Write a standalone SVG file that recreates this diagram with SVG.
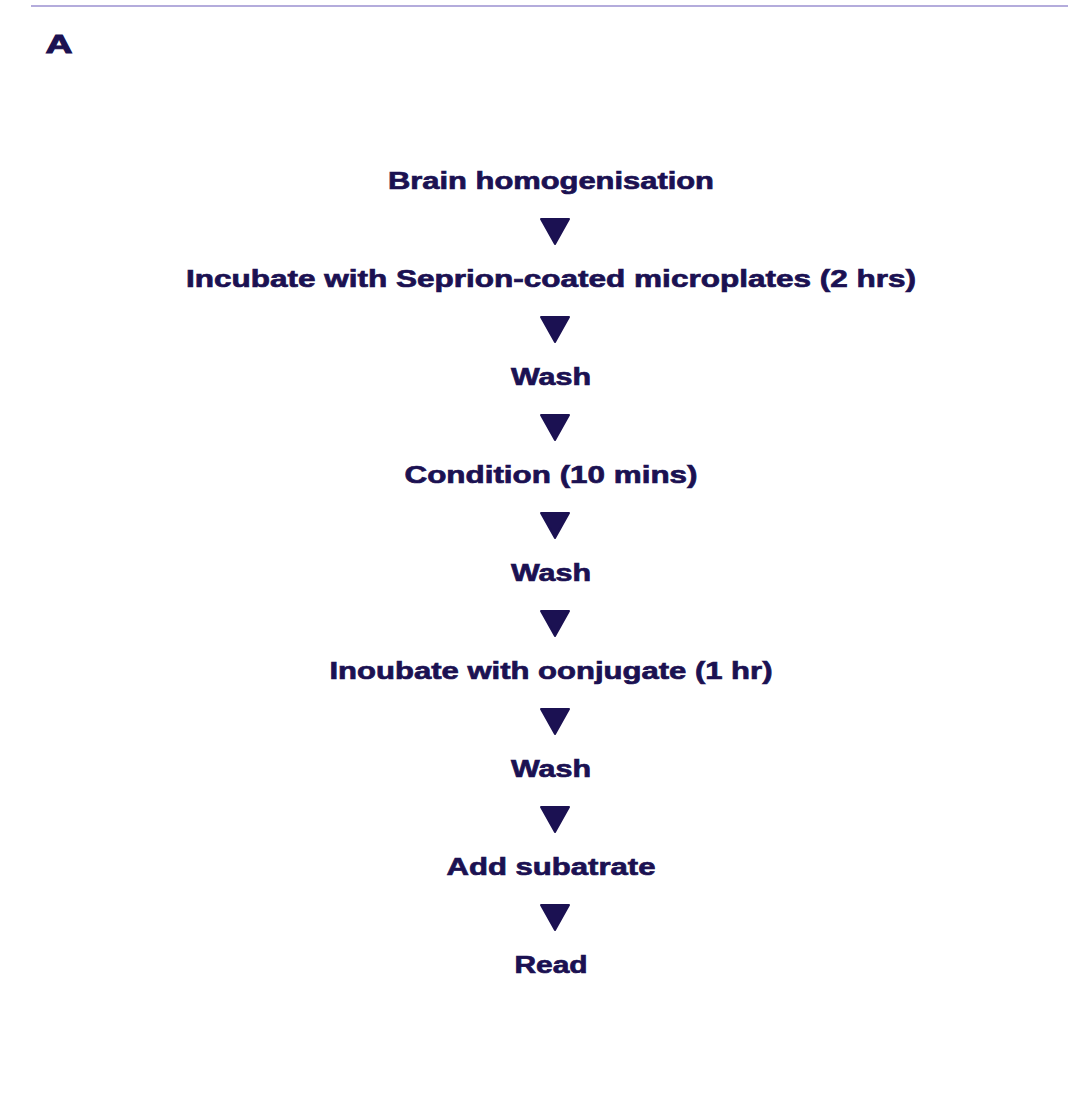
<svg xmlns="http://www.w3.org/2000/svg" width="1068" height="1108" viewBox="0 0 1068 1108">
<style>
.t{font-family:"Liberation Sans",Arial,sans-serif;font-weight:bold;font-size:24px;fill:#1b1152;stroke:#1b1152;stroke-width:0.7;text-anchor:middle}
.ar{fill:#1b1152;stroke:#1b1152;stroke-width:2;stroke-linejoin:round}
</style>
<defs><path id="tri" d="M-14,1 L14,1 L0,26 Z"/></defs>
<rect width="1068" height="1108" fill="#ffffff"/>
<line x1="31" y1="6" x2="1068" y2="6" stroke="#b4acdc" stroke-width="2"/>
<text x="59" y="53" class="t" style="font-size:26px;stroke-width:1" textLength="27" lengthAdjust="spacingAndGlyphs">A</text>
<g id="n1"><text x="551" y="189" class="t" textLength="326" lengthAdjust="spacingAndGlyphs">Brain homogenisation</text></g>
<g id="n2"><text x="551" y="287" class="t" textLength="730" lengthAdjust="spacingAndGlyphs">Incubate with Seprion-coated microplates (2 hrs)</text></g>
<g id="n3"><text x="551" y="385" class="t" textLength="80" lengthAdjust="spacingAndGlyphs">Wash</text></g>
<g id="n4"><text x="551" y="483" class="t" textLength="293" lengthAdjust="spacingAndGlyphs">Condition (10 mins)</text></g>
<g id="n5"><text x="551" y="581" class="t" textLength="80" lengthAdjust="spacingAndGlyphs">Wash</text></g>
<g id="n6"><text x="551" y="679" class="t" textLength="443" lengthAdjust="spacingAndGlyphs">Inoubate with oonjugate (1 hr)</text></g>
<g id="n7"><text x="551" y="777" class="t" textLength="80" lengthAdjust="spacingAndGlyphs">Wash</text></g>
<g id="n8"><text x="551" y="875" class="t" textLength="209" lengthAdjust="spacingAndGlyphs">Add subatrate</text></g>
<g id="n9"><text x="551" y="973" class="t" textLength="73" lengthAdjust="spacingAndGlyphs">Read</text></g>
<g id="connectors">
<use href="#tri" class="ar" x="555" y="218"/>
<use href="#tri" class="ar" x="555" y="316"/>
<use href="#tri" class="ar" x="555" y="414"/>
<use href="#tri" class="ar" x="555" y="512"/>
<use href="#tri" class="ar" x="555" y="610"/>
<use href="#tri" class="ar" x="555" y="708"/>
<use href="#tri" class="ar" x="555" y="806"/>
<use href="#tri" class="ar" x="555" y="904"/>
</g>
</svg>
